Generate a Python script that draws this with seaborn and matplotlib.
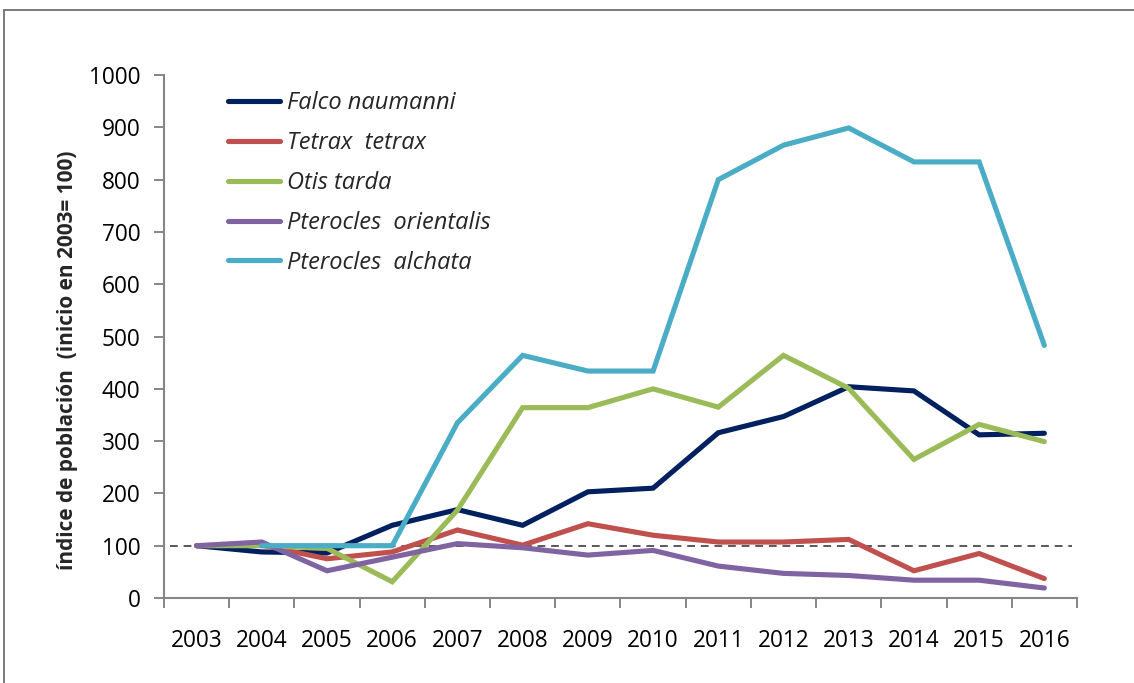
import numpy as np
import pandas as pd
import matplotlib
matplotlib.use("Agg")
import matplotlib.pyplot as plt
from matplotlib.patches import Rectangle
from matplotlib.ticker import FixedLocator
import seaborn as sns

years = ["2003", "2004", "2005", "2006", "2007", "2008", "2009",
         "2010", "2011", "2012", "2013", "2014", "2015", "2016"]

falco_naumanni = [100, 88, 86, 139, 169, 139, 203, 210, 316, 347, 404, 396, 312, 315]
tetrax_tetrax = [100, 101, 75, 88, 130, 101, 142, 120, 107, 107, 112, 52, 85, 37]
otis_tarda = [100, 100, 95, 31, 168, 364, 364, 400, 365, 464, 401, 265, 332, 299]
pterocles_orientalis = [100, 107, 52, 78, 104, 96, 82, 91, 61, 47, 43, 34, 34, 19]
pterocles_alchata = [np.nan, 100, 100, 100, 335, 464, 434, 434, 800, 866, 899, 834, 834, 483]

species = ["Falco naumanni", "Tetrax  tetrax", "Otis tarda",
           "Pterocles  orientalis", "Pterocles  alchata"]
series = [falco_naumanni, tetrax_tetrax, otis_tarda,
          pterocles_orientalis, pterocles_alchata]
colors = ["#002060", "#C0504D", "#9BBB59", "#8064A2", "#4BACC6"]

y_ticks = list(range(0, 1001, 100))
reference_level = 100

records = []
for name, vals in zip(species, series):
    for i, v in enumerate(vals):
        records.append({"pos": i, "year": years[i], "species": name, "value": v})
df = pd.DataFrame(records)

sns.set_theme(style="white")
plt.rcParams["font.family"] = ["Open Sans", "DejaVu Sans"]

fig = plt.figure(figsize=(11.34, 6.83), dpi=100)
ax = fig.add_axes([0.1446, 0.1245, 0.8051, 0.7655])

# outer chart frame (top and left edges visible)
fig.patches.append(Rectangle((0.0035, -0.05), 1.2, 1.0354, transform=fig.transFigure,
                             fill=False, edgecolor="#6f6f6f", linewidth=1.3, zorder=0))

ax.axhline(reference_level, xmin=0.007, xmax=0.995, color="#595959",
           linestyle=(0, (4, 3)), linewidth=1.4, zorder=1)

sns.lineplot(data=df, x="pos", y="value", hue="species", hue_order=species,
             palette=colors, linewidth=3.7, ax=ax, sort=False,
             estimator=None, legend=True, zorder=3)
for ln in ax.lines:
    ln.set_solid_capstyle("round")
    ln.set_solid_joinstyle("miter")

ax.set_xlim(-0.5, len(years) - 0.5)
ax.set_ylim(0, 1000)
ax.set_yticks(y_ticks)
ax.set_yticklabels([str(t) for t in y_ticks])
ax.set_xticks(range(len(years)))
ax.set_xticklabels(years)
ax.xaxis.set_minor_locator(FixedLocator(np.arange(-0.5, len(years), 1.0)))

ax.tick_params(axis="x", which="major", length=0, pad=22, labelsize=16.3, labelcolor="black")
ax.tick_params(axis="x", which="minor", length=7, width=1.4, color="#868686", direction="out", bottom=True)
ax.tick_params(axis="y", which="major", length=7, width=1.4, color="#868686", direction="out",
               left=True, pad=10, labelsize=16.3, labelcolor="black")

for side in ["top", "right"]:
    ax.spines[side].set_visible(False)
for side in ["left", "bottom"]:
    ax.spines[side].set_color("#868686")
    ax.spines[side].set_linewidth(1.5)

ax.set_xlabel("")
ax.set_ylabel("índice de población  (inicio en 2003= 100)", fontsize=15,
              fontweight="bold", labelpad=8)
ax.yaxis.set_label_coords(-0.094, 0.455)
ax.grid(False)

handles, labels = ax.get_legend_handles_labels()
leg = ax.legend(handles, labels, loc="upper left", bbox_to_anchor=(0.070, 0.969),
                frameon=False, fontsize=17, handlelength=2.2, handletextpad=0.3,
                labelspacing=0.67, borderaxespad=0, borderpad=0)
for t in leg.get_texts():
    t.set_fontstyle("italic")
for h in leg.get_lines():
    h.set_linewidth(3.7)
    h.set_solid_capstyle("round")

fig.savefig("out.png", dpi=100, facecolor="white")
